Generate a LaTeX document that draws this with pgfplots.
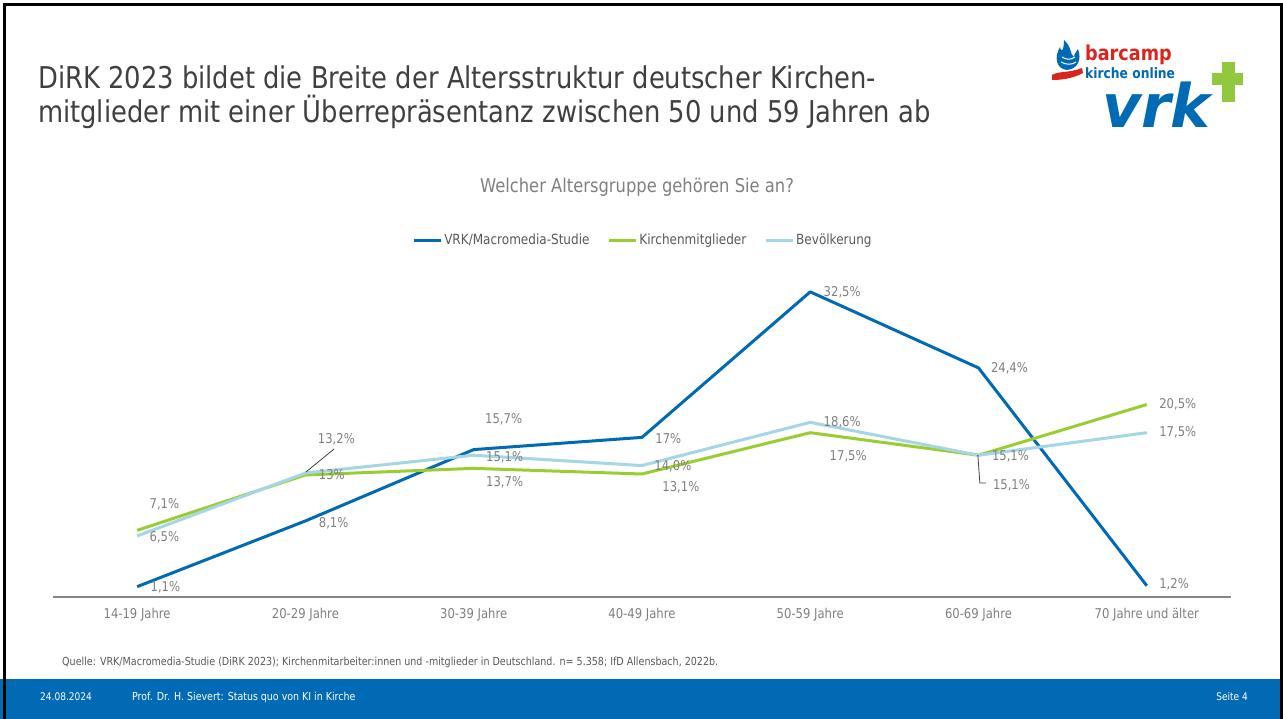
\documentclass[border=0pt]{standalone}
\usepackage{fontspec}
\setmainfont{DejaVu Sans}[FakeStretch=0.86]
\newfontfamily\logofont{DejaVu Sans}
\usepackage{pgfplots}
\usepackage{pgfplotstable}
\pgfplotsset{compat=1.18}

\definecolor{vrkblue}{RGB}{0,106,180}
\definecolor{kgreen}{RGB}{154,205,50}
\definecolor{blight}{RGB}{164,214,230}
\definecolor{lblgray}{RGB}{128,128,128}
\definecolor{legendgray}{RGB}{89,89,89}
\definecolor{titlegray}{RGB}{64,64,64}
\definecolor{axisgray}{RGB}{134,134,134}
\definecolor{leadergray}{RGB}{64,64,64}
\definecolor{footblue}{RGB}{0,106,180}
\definecolor{logored}{RGB}{218,37,29}
\definecolor{logogreen}{RGB}{146,200,62}

\pgfplotstableread{
x y lab dx dy
0 1.1 1,1\% 12 -1
1 8.1 8,1\% 12 -2
2 15.7 15,7\% 10 30
3 17 17\% 12 -1
4 32.5 32,5\% 12 0
5 24.4 24,4\% 11 0
6 1.2 1,2\% 11 1
}\vrktab

\pgfplotstableread{
x y lab dx dy
0 7.1 7,1\% 11 26
1 13 13\% 12 0
2 13.7 13,7\% 11 -14
3 13.1 13,1\% 19 -13
4 17.5 17,5\% 18 -24
5 15.1 15,1\% 13 -30
6 20.5 20,5\% 11 0
}\kirchetab

\pgfplotstableread{
x y lab dx dy
0 6.5 6,5\% 11 -1
1 13.2 13,2\% 11 34
2 15.1 15,1\% 11 -2
3 14.0 14,0\% 11 -1
4 18.6 18,6\% 12 0
5 15.1 15,1\% 12 -1
6 17.5 17,5\% 11 0
}\bevtab

\pgfplotsset{
  lbl/.style={
    nodes near coords,
    point meta=explicit symbolic,
    nodes near coords align=horizontal,
    visualization depends on={\thisrow{dx}\as\dx},
    visualization depends on={\thisrow{dy}\as\dy},
    every node near coord/.append style={anchor=west, xshift=\dx pt, yshift=\dy pt,
      inner sep=0pt, font=\fontsize{13.5}{15}\selectfont, text=lblgray},
  },
}

\begin{document}
\begin{tikzpicture}[x=1pt,y=1pt]
\useasboundingbox (0,0) rectangle (1283,719);
\fill[white] (0,0) rectangle (1283,719);

% footer
\fill[footblue] (0,0) rectangle (1283,40);
\node[anchor=base west, inner sep=0, text=white, font=\fontsize{10.5}{12}\selectfont] at (40,18) {24.08.2024};
\node[anchor=base west, inner sep=0, text=white, font=\fontsize{11}{12}\selectfont] at (132,18) {Prof. Dr. H. Sievert: Status quo von KI in Kirche};
\node[anchor=base east, inner sep=0, text=white, font=\fontsize{10.5}{12}\selectfont] at (1248,18) {Seite 4};

% source
\node[anchor=base west, inner sep=0, text=legendgray, font=\fontsize{11.1}{12}\selectfont] at (62,53) {Quelle: VRK/Macromedia-Studie (DiRK 2023); Kirchenmitarbeiter:innen und -mitglieder in Deutschland. n= 5.358; IfD Allensbach, 2022b.};

% title
\node[anchor=base west, inner sep=0, text=titlegray, font=\fontsize{30}{36}\selectfont] at (38,630) {DiRK 2023 bildet die Breite der Altersstruktur deutscher Kirchen-};
\node[anchor=base west, inner sep=0, text=titlegray, font=\fontsize{30}{36}\selectfont] at (38,596) {mitglieder mit einer Überrepräsentanz zwischen 50 und 59 Jahren ab};

% logo
\fill[vrkblue] (1067,649) .. controls (1056,650) and (1054,662) .. (1060,672) .. controls (1061,666) and (1064,668) .. (1064,679) .. controls (1072,672) and (1070,664) .. (1074,662) .. controls (1074,666) and (1077,667) .. (1078,670) .. controls (1082,660) and (1078,650) .. (1067,649) -- cycle;
\draw[white, line width=1pt] (1061,657) .. controls (1066,654) and (1072,654) .. (1076,657);
\draw[white, line width=1pt] (1062,662) .. controls (1066,659) and (1071,659) .. (1075,662);
\fill[logored] (1052,644) .. controls (1058,648) and (1070,646) .. (1082,651) -- (1083,646) .. controls (1072,640) and (1060,639) .. (1052,639) -- cycle;
\node[anchor=base west, inner sep=0, text=logored, font=\fontsize{20.5}{21}\selectfont\bfseries] at (1085,658) {barcamp};
\node[anchor=base west, inner sep=0, text=vrkblue, font=\fontsize{14.3}{15}\selectfont\bfseries] at (1085,640) {kirche online};
\node[anchor=base west, inner sep=0, text=vrkblue, font=\logofont\fontsize{60}{60}\selectfont\bfseries\itshape] at (1102,591) {vrk};
\fill[logogreen] (1222,617) rectangle (1235,657);
\fill[logogreen] (1212,634) rectangle (1243,646);

% chart title
\node[anchor=base, inner sep=0, text=lblgray, font=\fontsize{19}{22}\selectfont] at (637,526) {Welcher Altersgruppe gehören Sie an?};

\begin{axis}[
  at={(53pt,122pt)}, anchor=south west,
  scale only axis, width=1178pt, height=328.6pt,
  xmin=-0.5, xmax=6.5, ymin=0, ymax=35,
  axis x line=bottom, axis y line=none,
  axis line style={-, draw=axisgray, line width=1.3pt},
  xtick={0,...,6}, ytick=\empty,
  xticklabels={14-19 Jahre, 20-29 Jahre, 30-39 Jahre, 40-49 Jahre, 50-59 Jahre, 60-69 Jahre, 70 Jahre und älter},
  major tick length=0pt,
  xticklabel style={font=\fontsize{13.5}{15}\selectfont, text=lblgray, anchor=base, yshift=-22pt},
  clip=false,
  legend style={at={(0.5008,1.086)}, anchor=center, draw=none, fill=none,
    legend columns=3, font=\fontsize{14}{16}\selectfont, text=legendgray,
    /tikz/every even column/.append style={column sep=16pt}, inner sep=0pt},
  legend cell align=left,
  legend image code/.code={\draw[#1, line width=3pt] (0pt,0pt) -- (27pt,0pt);},
]
\addplot[vrkblue, line width=3pt, line join=round, lbl] table[x=x, y=y, meta=lab] {\vrktab};
\addlegendentry{VRK/Macromedia-Studie}
\addplot[kgreen, line width=3pt, line join=round, lbl] table[x=x, y=y, meta=lab] {\kirchetab};
\addlegendentry{Kirchenmitglieder}
\addplot[blight, line width=3pt, line join=round, lbl] table[x=x, y=y, meta=lab] {\bevtab};
\addlegendentry{Bevölkerung}
\draw[leadergray, line width=0.8pt] (axis cs:1.003,13.31) -- (axis cs:1.170,15.76);
\draw[leadergray, line width=0.8pt] (axis cs:4.996,15.12) -- (axis cs:5.008,12.14) -- (axis cs:5.044,12.14);
\end{axis}

% frame
\draw[black, line width=3pt] (4.5,0) -- (4.5,714.5) -- (1281.5,714.5) -- (1281.5,0);
\end{tikzpicture}
\end{document}
